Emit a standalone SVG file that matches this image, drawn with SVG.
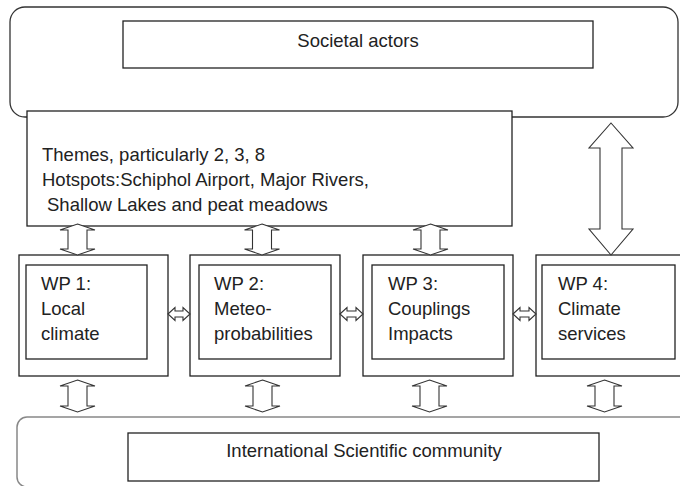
<svg xmlns="http://www.w3.org/2000/svg" width="680" height="486" viewBox="0 0 680 486">
<style>
.box{fill:#fff;stroke:#222;stroke-width:1.3}
.rr{fill:#fff;stroke:#333;stroke-width:1.3}
.rrb{fill:#fff;stroke:#888;stroke-width:1.5}
.arr{fill:#fff;stroke:#333;stroke-width:1.1;stroke-linejoin:miter}
text{font-family:"Liberation Sans",Arial,sans-serif;font-size:18.5px;fill:#222}
</style>
<rect width="680" height="486" fill="#fff"/>
<g id="societal">
<rect class="rr" x="10" y="7" width="668" height="110" rx="15"/>
<rect class="box" x="123" y="21" width="470" height="47"/>
<text x="358" y="47" text-anchor="middle">Societal actors</text>
</g>
<g id="themes">
<rect class="box" x="27" y="111" width="485" height="115"/>
<text x="42" y="161">Themes, particularly 2, 3, 8</text>
<text x="42" y="186">Hotspots:Schiphol Airport, Major Rivers,</text>
<text x="47" y="211">Shallow Lakes and peat meadows</text>
</g>
<g id="science">
<rect class="rrb" x="17" y="417" width="690" height="70" rx="10"/>
<rect class="box" x="128" y="433" width="471" height="48"/>
<text x="364" y="457" text-anchor="middle">International Scientific community</text>
</g>
<g id="wp1">
<rect class="box" x="19" y="255" width="149" height="121"/>
<rect class="box" x="26" y="265" width="121" height="94"/>
<text x="41" y="290">WP 1:</text>
<text x="41" y="315">Local</text>
<text x="41" y="340">climate</text>
</g>
<g id="wp2">
<rect class="box" x="190" y="255" width="150" height="121"/>
<rect class="box" x="199" y="265" width="132" height="94"/>
<text x="214" y="290">WP 2:</text>
<text x="214" y="315">Meteo-</text>
<text x="214" y="340">probabilities</text>
</g>
<g id="wp3">
<rect class="box" x="363" y="255" width="150" height="121"/>
<rect class="box" x="372" y="265" width="132" height="94"/>
<text x="388" y="290">WP 3:</text>
<text x="388" y="315">Couplings</text>
<text x="388" y="340">Impacts</text>
</g>
<g id="wp4">
<rect class="box" x="536" y="255" width="150" height="121"/>
<rect class="box" x="542" y="265" width="133" height="94"/>
<text x="558" y="290">WP 4:</text>
<text x="558" y="315">Climate</text>
<text x="558" y="340">services</text>
</g>
<g id="connectors">
<!-- big double arrow societal <-> WP4 -->
<polygon class="arr" points="611,123 633,148 622,148 622,229 633,229 611,255 589,229 600,229 600,148 589,148"/>
<!-- themes <-> WPs -->
<polygon class="arr" points="77.5,224 95,230 87,230 87,249 95,249 77.5,255 60,249 68,249 68,230 60,230"/>
<polygon class="arr" points="262,224 279.5,230 271.5,230 271.5,249 279.5,249 262,255 244.5,249 252.5,249 252.5,230 244.5,230"/>
<polygon class="arr" points="430.5,224 448,230 440,230 440,249 448,249 430.5,255 413,249 421,249 421,230 413,230"/>
<!-- WPs <-> science -->
<polygon class="arr" points="77.5,380 95,386 87,386 87,406 95,406 77.5,412 60,406 68,406 68,386 60,386"/>
<polygon class="arr" points="262.5,380 280,386 272,386 272,406 280,406 262.5,412 245,406 253,406 253,386 245,386"/>
<polygon class="arr" points="429.5,380 447,386 439,386 439,406 447,406 429.5,412 412,406 420,406 420,386 412,386"/>
<polygon class="arr" points="604.5,380 622,386 614,386 614,406 622,406 604.5,412 587,406 595,406 595,386 587,386"/>
<!-- horizontal WP <-> WP -->
<polygon class="arr" points="168,314 175,307.5 175,311 183,311 183,307.5 190,314 183,320.5 183,317 175,317 175,320.5"/>
<polygon class="arr" points="340,314 347,307.5 347,311 356,311 356,307.5 363,314 356,320.5 356,317 347,317 347,320.5"/>
<polygon class="arr" points="513,314 520,307.5 520,311 529,311 529,307.5 536,314 529,320.5 529,317 520,317 520,320.5"/>
</g>
</svg>
